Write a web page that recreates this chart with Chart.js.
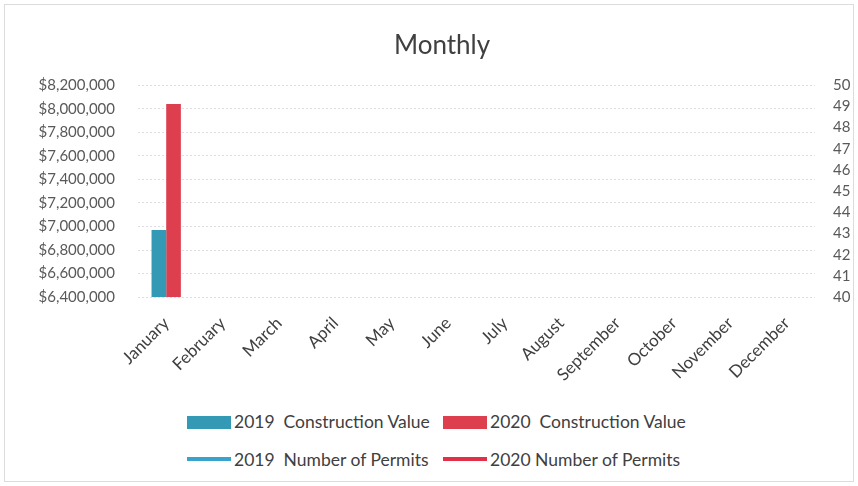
<!DOCTYPE html>
<html>
<head>
<meta charset="utf-8">
<script src="https://cdn.jsdelivr.net/npm/chart.js@4/dist/chart.umd.min.js"></script>
<style>
  body { margin: 0; background: #fff; }
  #wrap { position: relative; width: 858px; height: 486px; background: #fff; }
  #frame { position: absolute; left: 4px; top: 4px; width: 848px; height: 476px; border: 1px solid #dcdcdc; }
  #box { position: absolute; left: 0; top: 0; width: 858px; height: 393px; }
  .leg { position: absolute; font-family: Lato, "Open Sans", sans-serif; font-size: 17.5px; color: #404040; white-space: pre; line-height: 20px; }
  .sw { position: absolute; }
</style>
</head>
<body>
<div id="wrap">
  <div id="frame"></div>
  <div id="box"><canvas id="chart"></canvas></div>
  <div id="legend"></div>
</div>
<script>
const months = ['January', 'February', 'March', 'April', 'May', 'June', 'July',
  'August', 'September', 'October', 'November', 'December'];

// construction value, only January reported
const value2019 = [6970000, null, null, null, null, null, null, null, null, null, null, null];
const value2020 = [8040000, null, null, null, null, null, null, null, null, null, null, null];

// number of permits (right axis), sits at the bottom of the scale
const permits2019 = [40, null, null, null, null, null, null, null, null, null, null, null];
const permits2020 = [40, null, null, null, null, null, null, null, null, null, null, null];

const valueTicks = [6400000, 8200000, 200000];
const permitTicks = [40, 50, 1];

const teal = '#3399b5';
const red = '#dd3f4e';
const tealLine = '#3aa3cc';
const redLine = '#e23048';

const ctx = document.getElementById('chart').getContext('2d');
const fontFam = 'Lato, "Open Sans", sans-serif';

const chart = new Chart(ctx, {
  type: 'bar',
  data: {
    labels: months,
    datasets: [
      { label: '2019  Construction Value', data: value2019, backgroundColor: teal, yAxisID: 'y', order: 2 },
      { label: '2020  Construction Value', data: value2020, backgroundColor: red, yAxisID: 'y', order: 2 },
      { type: 'line', label: '2019  Number of Permits', data: permits2019, borderColor: tealLine, borderWidth: 3, pointRadius: 0, yAxisID: 'y2', order: 1 },
      { type: 'line', label: '2020 Number of Permits', data: permits2020, borderColor: redLine, borderWidth: 3, pointRadius: 0, yAxisID: 'y2', order: 1 }
    ]
  },
  options: {
    responsive: true,
    maintainAspectRatio: false,
    animation: false,
    datasets: { bar: { categoryPercentage: 0.52, barPercentage: 1 } },
    layout: { padding: { left: 26, right: 0, top: 0, bottom: 0 } },
    plugins: {
      legend: { display: false },
      tooltip: { enabled: false },
      title: {
        display: true, text: 'Monthly', color: '#404040',
        font: { family: fontFam, size: 26, weight: 'normal' },
        padding: { top: 30, bottom: 24 }
      }
    },
    scales: {
      x: {
        grid: { display: false },
        border: { display: false },
        ticks: {
          color: '#404040', minRotation: 45, maxRotation: 45, padding: 8,
          font: { family: fontFam, size: 17 }
        }
      },
      y: {
        position: 'left',
        min: valueTicks[0], max: valueTicks[1],
        grid: { color: '#dedede', drawTicks: false },
        border: { display: false, dash: [2, 2] },
        afterFit: s => { s.width = 112; },
        ticks: {
          stepSize: valueTicks[2], color: '#595959', padding: 23, autoSkip: false,
          font: { family: fontFam, size: 15 },
          callback: v => '$' + v.toLocaleString('en-US')
        }
      },
      y2: {
        position: 'right',
        min: permitTicks[0], max: permitTicks[1],
        grid: { display: false, drawTicks: false },
        border: { display: false },
        afterFit: s => { s.width = 43; },
        ticks: {
          stepSize: permitTicks[2], color: '#595959', padding: 18, autoSkip: false,
          font: { family: fontFam, size: 15 }
        }
      }
    }
  }
});

// legend in two rows like the original
const legendItems = [
  { ds: 0, kind: 'box', x: 187, y: 416, tx: 234, ty: 412 },
  { ds: 1, kind: 'box', x: 443, y: 416, tx: 490, ty: 412 },
  { ds: 2, kind: 'line', x: 187, y: 459, tx: 234, ty: 450 },
  { ds: 3, kind: 'line', x: 443, y: 459, tx: 490, ty: 450 }
];
const legend = document.getElementById('legend');
legendItems.forEach(item => {
  const ds = chart.data.datasets[item.ds];
  const sw = document.createElement('div');
  sw.className = 'sw';
  sw.style.left = item.x + 'px';
  sw.style.width = '44px';
  if (item.kind === 'box') {
    sw.style.top = item.y + 'px';
    sw.style.height = '13px';
    sw.style.background = ds.backgroundColor;
  } else {
    sw.style.top = (item.y - 2) + 'px';
    sw.style.height = '4px';
    sw.style.background = ds.borderColor;
  }
  legend.appendChild(sw);
  const t = document.createElement('div');
  t.className = 'leg';
  t.style.left = item.tx + 'px';
  t.style.top = item.ty + 'px';
  t.textContent = ds.label;
  legend.appendChild(t);
});
</script>
</body>
</html>
